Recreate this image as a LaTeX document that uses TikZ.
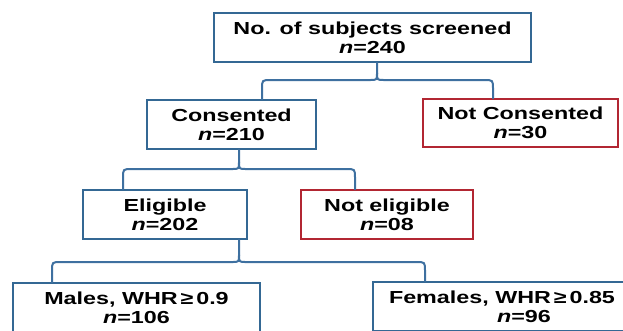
\documentclass[tikz,border=0pt]{standalone}
\usepackage{fontspec}
\setmainfont{Liberation Sans}[FakeStretch=1.34]
\usetikzlibrary{calc}
\definecolor{boxblue}{RGB}{52,104,148}
\definecolor{lineblue}{RGB}{62,112,160}
\definecolor{boxred}{RGB}{178,38,50}
\newcommand\brk[7]{%
  \coordinate (#1T) at (#2,#3-7);
  \coordinate (#1L) at (#4,#3);
  \coordinate (#1R) at (#6,#3);
  \draw[conn] (#5.north -| #1L) -- ($(#1L)+(0,9)$) .. controls (#1L) .. ($(#1L)+(9,0)$)
     -- ($(#1T)+(-7,7)$) .. controls ($(#1T)+(0,7)$) .. (#1T) -- (#1.south -| #1T);
  \draw[conn] (#7.north -| #1R) -- ($(#1R)+(0,9)$) .. controls (#1R) .. ($(#1R)+(-9,0)$)
     -- ($(#1T)+(7,7)$) .. controls ($(#1T)+(0,7)$) .. (#1T);
}
\begin{document}
\begin{tikzpicture}[x=1pt,y=-1pt,
  box/.style={draw=boxblue,line width=1.4pt,fill=white,inner sep=0pt,align=center,
    font=\fontsize{17.4}{19}\selectfont\bfseries},
  redbox/.style={box,draw=boxred},
  conn/.style={draw=lineblue,line width=2pt,line join=round,line cap=round}]
\useasboundingbox (0,0) rectangle (623,330);
\clip (0,0) rectangle (623,330);
\node[box,minimum width=317pt,minimum height=49pt] (top) at (372.5,37.5) {No. of subjects screened\\\textit{n}=240};
\node[box,minimum width=169pt,minimum height=49pt] (cons) at (231.5,124.5) {Consented\\\textit{n}=210};
\node[redbox,minimum width=195pt,minimum height=48pt] (notc) at (520.5,123) {Not Consented\\\textit{n}=30};
\node[box,minimum width=164pt,minimum height=49pt] (elig) at (165,214.5) {Eligible\\\textit{n}=202};
\node[redbox,minimum width=172pt,minimum height=49pt] (note) at (387,214.5) {Not eligible\\\textit{n}=08};
\node[box,minimum width=247pt,minimum height=49pt] (males) at (136.5,307.5) {Males, WHR\,≥\,0.9\\\textit{n}=106};
\node[box,minimum width=302pt,minimum height=49pt] (fem) at (524,306.5) {\kern-44pt Females, WHR\,≥\,0.85\\\textit{n}=96};
\brk{top}{377}{80}{262}{cons}{493}{notc}
\brk{cons}{239}{169}{123}{elig}{355}{note}
\brk{elig}{239}{262}{52}{males}{425}{fem}
\end{tikzpicture}
\end{document}
